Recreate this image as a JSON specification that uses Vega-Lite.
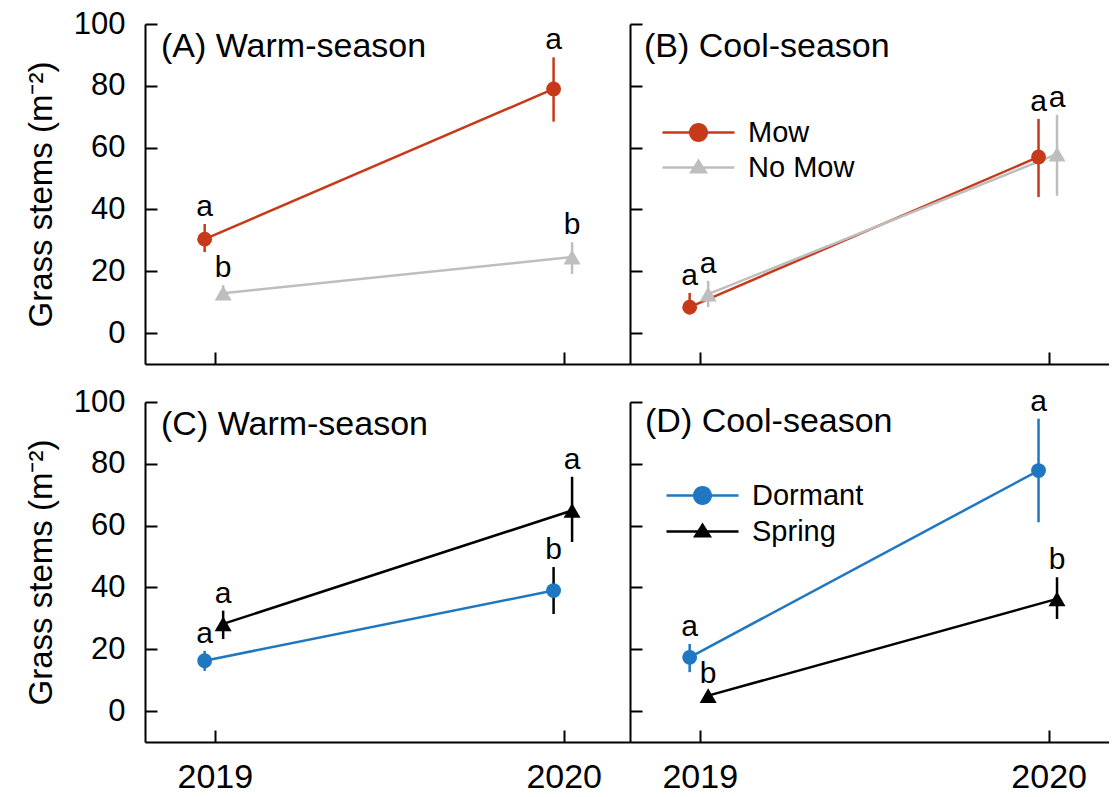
{
  "$schema": "https://vega.github.io/schema/vega-lite/v6.json",
  "background": "white",
  "padding": {"left": 25, "top": 8, "right": 0, "bottom": 4},
  "spacing": 21,
  "config": {
    "view": {"stroke": null},
    "font": "Liberation Sans",
    "axis": {
      "grid": false,
      "domainColor": "black",
      "domainWidth": 2,
      "tickColor": "black",
      "tickWidth": 2,
      "tickSize": -12,
      "labelColor": "black",
      "labelFont": "Liberation Sans",
      "titleColor": "black",
      "titleFont": "Liberation Sans",
      "titleFontWeight": "normal",
      "labelFlush": false
    },
    "title": {
      "anchor": "start",
      "frame": "group",
      "fontSize": 34,
      "fontWeight": "normal",
      "color": "black",
      "font": "Liberation Sans",
      "baseline": "alphabetic"
    }
  },
  "datasets": {
    "stems": [
      {"panel": "A", "trt": "Mow", "year": 2019, "mean": 30.4, "lo": 26.2, "hi": 35.3, "letter": "a"},
      {"panel": "A", "trt": "Mow", "year": 2020, "mean": 79.0, "lo": 68.4, "hi": 89.2, "letter": "a"},
      {"panel": "A", "trt": "No Mow", "year": 2019, "mean": 12.9, "lo": 11.3, "hi": 15.5, "letter": "b"},
      {"panel": "A", "trt": "No Mow", "year": 2020, "mean": 24.6, "lo": 19.1, "hi": 29.4, "letter": "b"},
      {"panel": "B", "trt": "Mow", "year": 2019, "mean": 8.4, "lo": 6.0, "hi": 13.0, "letter": "a"},
      {"panel": "B", "trt": "Mow", "year": 2020, "mean": 57.0, "lo": 44.0, "hi": 69.3, "letter": "a"},
      {"panel": "B", "trt": "No Mow", "year": 2019, "mean": 12.6, "lo": 8.4, "hi": 16.9, "letter": "a"},
      {"panel": "B", "trt": "No Mow", "year": 2020, "mean": 57.9, "lo": 44.4, "hi": 70.6, "letter": "a"},
      {"panel": "C", "trt": "Dormant", "year": 2019, "mean": 16.3, "lo": 13.0, "hi": 19.5, "letter": "a"},
      {"panel": "C", "trt": "Dormant", "year": 2020, "mean": 39.0, "lo": 31.4, "hi": 46.6, "letter": "b"},
      {"panel": "C", "trt": "Spring", "year": 2019, "mean": 28.2, "lo": 23.3, "hi": 32.5, "letter": "a"},
      {"panel": "C", "trt": "Spring", "year": 2020, "mean": 64.9, "lo": 54.7, "hi": 75.8, "letter": "a"},
      {"panel": "D", "trt": "Dormant", "year": 2019, "mean": 17.4, "lo": 12.6, "hi": 21.7, "letter": "a"},
      {"panel": "D", "trt": "Dormant", "year": 2020, "mean": 77.8, "lo": 61.1, "hi": 94.6, "letter": "a"},
      {"panel": "D", "trt": "Spring", "year": 2019, "mean": 5.0, "lo": 3.5, "hi": 6.5, "letter": "b"},
      {"panel": "D", "trt": "Spring", "year": 2020, "mean": 36.3, "lo": 29.8, "hi": 43.3, "letter": "b"}
    ]
  },
  "resolve": {
    "scale": {"x": "independent", "y": "independent", "color": "independent", "shape": "independent", "size": "independent"},
    "legend": {"color": "independent", "shape": "independent", "size": "independent"}
  },
  "vconcat": [
    {
      "spacing": 0,
      "bounds": "flush",
      "resolve": {
        "scale": {"x": "independent", "y": "independent", "color": "independent", "shape": "independent", "size": "independent"},
        "legend": {"color": "independent", "shape": "independent", "size": "independent"}
      },
      "hconcat": [
        {
          "width": 485,
          "height": 340,
          "title": {"text": "(A) Warm-season", "offset": -56, "dx": 16},
          "data": {"name": "stems"},
          "transform": [
            {"filter": "datum.panel === 'A'"},
            {"calculate": "datum.year + (datum.trt === 'Mow' || datum.trt === 'Dormant' ? -0.029 : 0.024)", "as": "xd"},
            {"calculate": "datum.trt", "as": "sym"}
          ],
          "encoding": {
            "x": {"field": "xd", "type": "quantitative", "scale": {"domain": [2018.8, 2020.19], "nice": false, "zero": false}, "axis": {"values": [2019, 2020], "labels": false, "title": null}},
            "color": {"field": "trt", "type": "nominal", "scale": {"domain": ["Mow", "No Mow"], "range": ["#C73A19", "#BEBEBE"]}, "legend": null}
          },
          "layer": [
            {"mark": {"type": "line", "strokeWidth": 2.5}, "encoding": {"y": {"field": "mean", "type": "quantitative", "title": "Grass stems (m⁻²)", "scale": {"domain": [-10, 100], "nice": false, "zero": false}, "axis": {"values": [0, 20, 40, 60, 80, 100], "labelFontSize": 31, "labelPadding": 32, "titleFontSize": 33, "titlePadding": 15}}}},
            {"mark": {"type": "rule", "strokeWidth": 2.5}, "encoding": {"y": {"field": "lo", "type": "quantitative", "title": "Grass stems (m⁻²)"}, "y2": {"field": "hi"}}},
            {"mark": {"type": "point", "filled": true, "opacity": 1}, "encoding": {"y": {"field": "mean", "type": "quantitative", "title": "Grass stems (m⁻²)"}, "shape": {"field": "sym", "type": "nominal", "scale": {"domain": ["Mow", "No Mow"], "range": ["circle", "triangle-up"]}, "legend": null}, "size": {"field": "sym", "type": "nominal", "scale": {"domain": ["Mow", "No Mow"], "range": [220, 290]}, "legend": null}}},
            {"mark": {"type": "text", "dy": -8, "baseline": "alphabetic", "fontSize": 30, "font": "Liberation Sans"}, "encoding": {"y": {"field": "hi", "type": "quantitative", "title": "Grass stems (m⁻²)"}, "text": {"field": "letter"}, "color": {"value": "black"}}}
          ]
        },
        {
          "width": 479,
          "height": 340,
          "title": {"text": "(B) Cool-season", "offset": -41, "dx": 14},
          "data": {"name": "stems"},
          "transform": [
            {"filter": "datum.panel === 'B'"},
            {"calculate": "datum.year + (datum.trt === 'Mow' || datum.trt === 'Dormant' ? -0.029 : 0.024)", "as": "xd"}
          ],
          "encoding": {
            "x": {"field": "xd", "type": "quantitative", "scale": {"domain": [2018.8, 2020.173], "nice": false, "zero": false}, "axis": {"values": [2019, 2020], "labels": false, "title": null}},
            "color": {
              "field": "trt", "type": "nominal",
              "scale": {"domain": ["Mow", "No Mow"], "range": ["#C73A19", "#BEBEBE"]},
              "legend": {
                "orient": "none", "legendX": 54, "legendY": 94, "title": null,
                "labelFontSize": 29, "labelFont": "Liberation Sans", "labelColor": "black",
                "symbolSize": 400, "symbolStrokeWidth": 0, "symbolOpacity": 1, "labelOffset": 35, "rowPadding": 5
              }
            }
          },
          "layer": [
            {"mark": {"type": "line", "strokeWidth": 2.5}, "encoding": {"y": {"field": "mean", "type": "quantitative", "scale": {"domain": [-10, 100], "nice": false, "zero": false}, "axis": {"values": [0, 20, 40, 60, 80, 100], "labels": false, "title": null}}}},
            {"mark": {"type": "rule", "strokeWidth": 2.5}, "encoding": {"y": {"field": "lo", "type": "quantitative"}, "y2": {"field": "hi"}}},
            {"transform": [{"filter": "datum.trt === 'Mow'"}], "mark": {"type": "point", "filled": true, "opacity": 1, "shape": "circle", "size": 220}, "encoding": {"y": {"field": "mean", "type": "quantitative"}}},
            {"transform": [{"filter": "datum.trt !== 'Mow'"}], "mark": {"type": "point", "filled": true, "opacity": 1, "shape": "triangle-up", "size": 290}, "encoding": {"y": {"field": "mean", "type": "quantitative"}}},
            {"mark": {"type": "point", "filled": true, "opacity": 0}, "encoding": {"y": {"field": "mean", "type": "quantitative"}, "shape": {"field": "trt", "type": "nominal", "scale": {"domain": ["Mow", "No Mow"], "range": ["M-3.6,-0.125H3.6V0.125H-3.6ZM-0.95,0A0.95,0.95,0,1,1,0.95,0A0.95,0.95,0,1,1,-0.95,0Z", "M-3.6,-0.125H3.6V0.125H-3.6ZM0,-0.9L0.95,0.6L-0.95,0.6Z"]}, "legend": {
                "orient": "none", "legendX": 54, "legendY": 94, "title": null,
                "labelFontSize": 29, "labelFont": "Liberation Sans", "labelColor": "black",
                "symbolSize": 400, "symbolStrokeWidth": 0, "symbolOpacity": 1, "labelOffset": 35, "rowPadding": 5
              }}}},
            {"mark": {"type": "text", "dy": -8, "baseline": "alphabetic", "fontSize": 30, "font": "Liberation Sans"}, "encoding": {"y": {"field": "hi", "type": "quantitative"}, "text": {"field": "letter"}, "color": {"value": "black"}}}
          ]
        }
      ]
    },
    {
      "spacing": 0,
      "bounds": "flush",
      "resolve": {
        "scale": {"x": "independent", "y": "independent", "color": "independent", "shape": "independent", "size": "independent"},
        "legend": {"color": "independent", "shape": "independent", "size": "independent"}
      },
      "hconcat": [
        {
          "width": 485,
          "height": 340,
          "title": {"text": "(C) Warm-season", "offset": -56, "dx": 16},
          "data": {"name": "stems"},
          "transform": [
            {"filter": "datum.panel === 'C'"},
            {"calculate": "datum.year + (datum.trt === 'Mow' || datum.trt === 'Dormant' ? -0.029 : 0.024)", "as": "xd"},
            {"calculate": "datum.trt", "as": "sym"}
          ],
          "encoding": {
            "x": {"field": "xd", "type": "quantitative", "scale": {"domain": [2018.8, 2020.19], "nice": false, "zero": false}, "axis": {"values": [2019, 2020], "format": "d", "labelFontSize": 34, "labelPadding": 30, "title": null}},
            "color": {"field": "trt", "type": "nominal", "scale": {"domain": ["Dormant", "Spring"], "range": ["#1F77C2", "#000000"]}, "legend": null}
          },
          "layer": [
            {"mark": {"type": "line", "strokeWidth": 2.5}, "encoding": {"y": {"field": "mean", "type": "quantitative", "title": "Grass stems (m⁻²)", "scale": {"domain": [-10, 100], "nice": false, "zero": false}, "axis": {"values": [0, 20, 40, 60, 80, 100], "labelFontSize": 31, "labelPadding": 32, "titleFontSize": 33, "titlePadding": 15}}}},
            {"mark": {"type": "rule", "strokeWidth": 2.5}, "encoding": {"y": {"field": "lo", "type": "quantitative", "title": "Grass stems (m⁻²)"}, "y2": {"field": "hi"}, "color": {"condition": {"test": "datum.trt === 'Dormant' && datum.year === 2020", "value": "#000000"}, "field": "trt", "type": "nominal", "legend": null}}},
            {"mark": {"type": "point", "filled": true, "opacity": 1}, "encoding": {"y": {"field": "mean", "type": "quantitative", "title": "Grass stems (m⁻²)"}, "shape": {"field": "sym", "type": "nominal", "scale": {"domain": ["Dormant", "Spring"], "range": ["circle", "triangle-up"]}, "legend": null}, "size": {"field": "sym", "type": "nominal", "scale": {"domain": ["Dormant", "Spring"], "range": [220, 290]}, "legend": null}}},
            {"mark": {"type": "text", "dy": -8, "baseline": "alphabetic", "fontSize": 30, "font": "Liberation Sans"}, "encoding": {"y": {"field": "hi", "type": "quantitative", "title": "Grass stems (m⁻²)"}, "text": {"field": "letter"}, "color": {"value": "black"}}}
          ]
        },
        {
          "width": 479,
          "height": 340,
          "title": {"text": "(D) Cool-season", "offset": -52, "dx": 15},
          "data": {"name": "stems"},
          "transform": [
            {"filter": "datum.panel === 'D'"},
            {"calculate": "datum.year + (datum.trt === 'Mow' || datum.trt === 'Dormant' ? -0.029 : 0.024)", "as": "xd"}
          ],
          "encoding": {
            "x": {"field": "xd", "type": "quantitative", "scale": {"domain": [2018.8, 2020.173], "nice": false, "zero": false}, "axis": {"values": [2019, 2020], "format": "d", "labelFontSize": 34, "labelPadding": 30, "title": null}},
            "color": {
              "field": "trt", "type": "nominal",
              "scale": {"domain": ["Dormant", "Spring"], "range": ["#1F77C2", "#000000"]},
              "legend": {
                "orient": "none", "legendX": 58, "legendY": 79, "title": null,
                "labelFontSize": 29, "labelFont": "Liberation Sans", "labelColor": "black",
                "symbolSize": 400, "symbolStrokeWidth": 0, "symbolOpacity": 1, "labelOffset": 35, "rowPadding": 6
              }
            }
          },
          "layer": [
            {"mark": {"type": "line", "strokeWidth": 2.5}, "encoding": {"y": {"field": "mean", "type": "quantitative", "scale": {"domain": [-10, 100], "nice": false, "zero": false}, "axis": {"values": [0, 20, 40, 60, 80, 100], "labels": false, "title": null}}}},
            {"mark": {"type": "rule", "strokeWidth": 2.5}, "encoding": {"y": {"field": "lo", "type": "quantitative"}, "y2": {"field": "hi"}}},
            {"transform": [{"filter": "datum.trt === 'Dormant'"}], "mark": {"type": "point", "filled": true, "opacity": 1, "shape": "circle", "size": 220}, "encoding": {"y": {"field": "mean", "type": "quantitative"}}},
            {"transform": [{"filter": "datum.trt !== 'Dormant'"}], "mark": {"type": "point", "filled": true, "opacity": 1, "shape": "triangle-up", "size": 290}, "encoding": {"y": {"field": "mean", "type": "quantitative"}}},
            {"mark": {"type": "point", "filled": true, "opacity": 0}, "encoding": {"y": {"field": "mean", "type": "quantitative"}, "shape": {"field": "trt", "type": "nominal", "scale": {"domain": ["Dormant", "Spring"], "range": ["M-3.6,-0.125H3.6V0.125H-3.6ZM-0.95,0A0.95,0.95,0,1,1,0.95,0A0.95,0.95,0,1,1,-0.95,0Z", "M-3.6,-0.125H3.6V0.125H-3.6ZM0,-0.9L0.95,0.6L-0.95,0.6Z"]}, "legend": {
                "orient": "none", "legendX": 58, "legendY": 79, "title": null,
                "labelFontSize": 29, "labelFont": "Liberation Sans", "labelColor": "black",
                "symbolSize": 400, "symbolStrokeWidth": 0, "symbolOpacity": 1, "labelOffset": 35, "rowPadding": 6
              }}}},
            {"mark": {"type": "text", "dy": -8, "baseline": "alphabetic", "fontSize": 30, "font": "Liberation Sans"}, "encoding": {"y": {"field": "hi", "type": "quantitative"}, "text": {"field": "letter"}, "color": {"value": "black"}}}
          ]
        }
      ]
    }
  ]
}
